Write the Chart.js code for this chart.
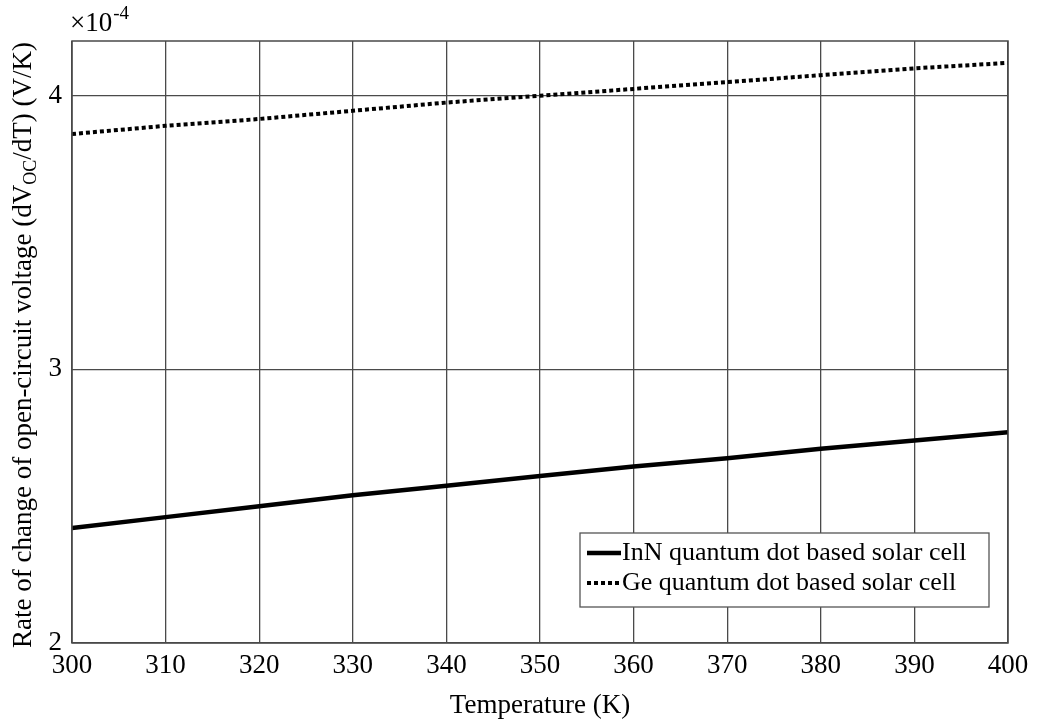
<!DOCTYPE html>
<html>
<head>
<meta charset="utf-8">
<script src="https://cdn.jsdelivr.net/npm/chart.js@4.4.1/dist/chart.umd.min.js"></script>
<style>
  html, body { margin: 0; padding: 0; background: #fff; }
  #wrap { width: 1042px; height: 719px; }
</style>
</head>
<body>
<div id="wrap"><canvas id="voc"></canvas></div>
<script>
// Data (values in units of 1e-4 V/K)
const temps = [300, 310, 320, 330, 340, 350, 360, 370, 380, 390, 400];
const innValues = [2.42, 2.46, 2.50, 2.54, 2.575, 2.61, 2.645, 2.675, 2.71, 2.74, 2.77];
const geValues = [3.86, 3.89, 3.915, 3.945, 3.975, 4.0, 4.025, 4.05, 4.075, 4.10, 4.12];
const yTicks = [2, 3, 4];
const seriesLabels = ['InN quantum dot based solar cell', 'Ge quantum dot based solar cell'];

const serif = "'Liberation Serif', 'Times New Roman', serif";
const gridCol = '#4a4a4a';

function toPoints(vals) {
    return temps.map((t, i) => ({ x: t, y: vals[i] }));
}

// frame, y title with subscript, exponent note and boxed legend
const extras = {
    id: 'extras',
    afterDraw(chart) {
        const ctx = chart.ctx;
        const a = chart.chartArea;
        ctx.save();

        // frame
        ctx.strokeStyle = gridCol;
        ctx.lineWidth = 1.5;
        ctx.strokeRect(a.left, a.top, a.right - a.left, a.bottom - a.top);

        ctx.fillStyle = '#000';
        ctx.textBaseline = 'alphabetic';

        // ×10^-4
        ctx.font = '27px ' + serif;
        ctx.textAlign = 'left';
        ctx.fillText('\u00d710', 70, 31);
        const w10 = ctx.measureText('\u00d710').width;
        ctx.font = '19px ' + serif;
        ctx.fillText('-4', 70 + w10 + 1, 19);

        // y title, rotated, with subscript OC
        const parts = [
            ['Rate of change of open-circuit voltage (dV', 27, 0],
            ['OC', 18, 5],
            ['/dT) (V/K)', 27, 0]
        ];
        let total = 0;
        parts.forEach(p => { ctx.font = p[1] + 'px ' + serif; total += ctx.measureText(p[0]).width; });
        ctx.translate(31, 345);
        ctx.rotate(-Math.PI / 2);
        let x = -total / 2;
        parts.forEach(p => {
            ctx.font = p[1] + 'px ' + serif;
            ctx.fillText(p[0], x, p[2]);
            x += ctx.measureText(p[0]).width;
        });
        ctx.setTransform(1, 0, 0, 1, 0, 0);

        // legend box
        const bx = 580, by = 533, bw = 409, bh = 74;
        ctx.fillStyle = '#fff';
        ctx.fillRect(bx, by, bw, bh);
        ctx.strokeStyle = '#555';
        ctx.lineWidth = 1.3;
        ctx.strokeRect(bx, by, bw, bh);
        chart.data.datasets.forEach((ds, i) => {
            const cy = by + 20 + i * 30;
            ctx.beginPath();
            ctx.setLineDash(ds.borderDash || []);
            ctx.lineWidth = ds.borderWidth;
            ctx.strokeStyle = ds.borderColor;
            ctx.moveTo(587, cy);
            ctx.lineTo(621, cy);
            ctx.stroke();
            ctx.setLineDash([]);
            ctx.fillStyle = '#000';
            ctx.font = '26px ' + serif;
            ctx.textAlign = 'left';
            ctx.textBaseline = 'middle';
            ctx.fillText(ds.label, 622, cy);
        });
        ctx.restore();
    }
};

new Chart(document.getElementById('voc'), {
    type: 'line',
    data: {
        datasets: [
            {
                label: seriesLabels[0],
                data: toPoints(innValues),
                borderColor: '#000',
                borderWidth: 4.5,
                pointRadius: 0,
                tension: 0
            },
            {
                label: seriesLabels[1],
                data: toPoints(geValues),
                borderColor: '#000',
                borderWidth: 4,
                borderDash: [4, 3],
                borderCapStyle: 'butt',
                pointRadius: 0,
                tension: 0
            }
        ]
    },
    options: {
        responsive: true,
        maintainAspectRatio: false,
        animation: false,
        layout: { padding: { top: 41, right: 34, left: 0, bottom: 0 } },
        plugins: {
            legend: { display: false },
            tooltip: { enabled: false }
        },
        scales: {
            x: {
                type: 'linear',
                min: 300,
                max: 400,
                afterFit(s) { s.height = 76; },
                ticks: {
                    stepSize: 10,
                    color: '#000',
                    padding: 7,
                    font: { family: serif, size: 27 }
                },
                grid: { color: gridCol, lineWidth: 1.3, drawTicks: false },
                border: { display: false },
                title: {
                    display: true,
                    text: 'Temperature (K)',
                    color: '#000',
                    font: { family: serif, size: 27 },
                    padding: { top: 0, bottom: -3 }
                }
            },
            y: {
                min: 2,
                max: 4.2,
                afterFit(s) { s.width = 72; },
                afterBuildTicks(s) { s.ticks = yTicks.map(v => ({ value: v })); },
                ticks: {
                    color: '#000',
                    padding: 10,
                    font: { family: serif, size: 27 }
                },
                grid: { color: gridCol, lineWidth: 1.3, drawTicks: false },
                border: { display: false }
            }
        }
    },
    plugins: [extras]
});
</script>
</body>
</html>
